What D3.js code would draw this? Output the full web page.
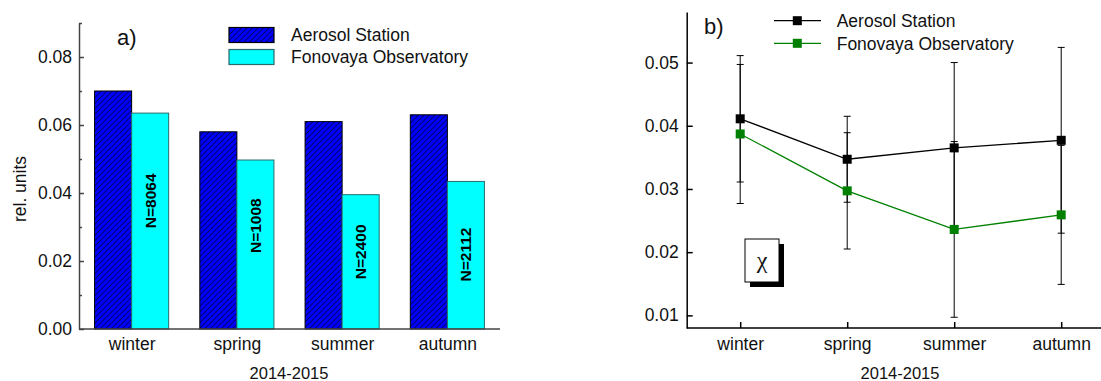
<!DOCTYPE html>
<html>
<head>
<meta charset="utf-8">
<script src="https://cdn.jsdelivr.net/npm/d3@7/dist/d3.min.js"></script>
<style>
body { margin: 0; background: #fff; }
svg { display: block; font-family: "Liberation Sans", Arial, sans-serif; }
</style>
</head>
<body>
<div id="chart"></div>
<script>
// Chart data
var seasons = ["winter", "spring", "summer", "autumn"];
var seriesNames = ["Aerosol Station", "Fonovaya Observatory"];

// a) share, rel. units
var aerosolShare  = [0.070, 0.058, 0.061, 0.063];
var fonovayaShare = [0.0635, 0.0497, 0.0395, 0.0434];
var sampleSizes   = [8064, 1008, 2400, 2112];
var sampleLabelLevel = [0.0377, 0.0304, 0.0227, 0.0219]; // where the N= text sits (rel. units)

// b) chi with error bars
var aerosolChi     = [0.0411, 0.0347, 0.0365, 0.0377];
var aerosolChiErr  = [0.0100, 0.0068, 0.0135, 0.0147];
var fonovayaChi    = [0.0387, 0.0297, 0.0236, 0.0259];
var fonovayaChiErr = [0.0110, 0.0092, 0.0139, 0.0110];

var shareTicks      = [0, 0.02, 0.04, 0.06, 0.08];
var shareMinorTicks = [0.01, 0.03, 0.05, 0.07, 0.09];
var chiTicks        = [0.01, 0.02, 0.03, 0.04, 0.05];
var xTitle = "2014-2015";

var width = 1101;
var height = 381;
var fmt = d3.format(".2f");

var svg = d3.select("#chart").append("svg")
    .attr("width", width)
    .attr("height", height);

// hatch for the Aerosol Station bars
var defs = svg.append("defs");
defs.append("pattern")
    .attr("id", "hatch")
    .attr("patternUnits", "userSpaceOnUse")
    .attr("width", 5.5)
    .attr("height", 5.5)
  .append("path")
    .attr("d", "M0,5.5L5.5,0M-1,1L1,-1M4.5,6.5L6.5,4.5")
    .attr("stroke", "#000")
    .attr("stroke-width", 0.8);

/* ---------- panel a) ---------- */
var xa = d3.scalePoint().domain(seasons).range([79, 500]).padding(0.5);
var ya = d3.scaleLinear().domain([0, 0.09]).range([329, 23]);
var barW = xa.step() * 0.352;
var axisGrey = "#444";

var gA = svg.append("g");

gA.selectAll("rect.aero")
    .data(seasons)
    .enter()
    .append("rect")
    .attr("class", "aero")
    .attr("x", d => xa(d) - barW)
    .attr("y", (d, i) => ya(aerosolShare[i]))
    .attr("width", barW)
    .attr("height", (d, i) => ya(0) - ya(aerosolShare[i]))
    .attr("fill", "#0000ff");

gA.selectAll("rect.aeroHatch")
    .data(seasons)
    .enter()
    .append("rect")
    .attr("class", "aeroHatch")
    .attr("x", d => xa(d) - barW)
    .attr("y", (d, i) => ya(aerosolShare[i]))
    .attr("width", barW)
    .attr("height", (d, i) => ya(0) - ya(aerosolShare[i]))
    .attr("fill", "url(#hatch)")
    .attr("stroke", "#000")
    .attr("stroke-width", 1);

gA.selectAll("rect.fono")
    .data(seasons)
    .enter()
    .append("rect")
    .attr("class", "fono")
    .attr("x", d => xa(d))
    .attr("y", (d, i) => ya(fonovayaShare[i]))
    .attr("width", barW)
    .attr("height", (d, i) => ya(0) - ya(fonovayaShare[i]))
    .attr("fill", "#00ffff")
    .attr("stroke", "#2a6a6a")
    .attr("stroke-width", 1);

// N= labels inside the cyan bars
gA.selectAll("text.nlab")
    .data(seasons)
    .enter()
    .append("text")
    .attr("class", "nlab")
    .attr("transform", (d, i) => "translate(" + (xa(d) + barW / 2) + "," + ya(sampleLabelLevel[i]) + ")rotate(-90)")
    .attr("text-anchor", "middle")
    .attr("dy", "0.36em")
    .attr("font-size", "15.5px")
    .attr("font-weight", "bold")
    .text((d, i) => "N=" + sampleSizes[i]);

// y axis, ticks pointing inward
var yAxisA = gA.append("g")
    .attr("transform", "translate(79,0)")
    .call(d3.axisLeft(ya).tickValues(shareTicks).tickFormat(fmt)
          .tickSizeInner(-5).tickSizeOuter(0).tickPadding(7));
gA.append("g")
    .attr("transform", "translate(79,0)")
    .call(d3.axisLeft(ya).tickValues(shareMinorTicks).tickFormat("")
          .tickSizeInner(-3).tickSizeOuter(0))
    .select(".domain").remove();

var xAxisA = gA.append("g")
    .attr("transform", "translate(0,329)")
    .call(d3.axisBottom(xa).tickSize(0).tickPadding(9));
xAxisA.select(".domain").attr("d", "M79,0H500");

gA.selectAll(".domain, .tick line")
    .attr("stroke", axisGrey)
    .attr("stroke-width", 1.5);
gA.selectAll(".tick text")
    .attr("font-family", "Liberation Sans, Arial, sans-serif")
    .attr("font-size", "17.5px")
    .attr("fill", "#111");

gA.append("text")
    .attr("transform", "translate(26,189)rotate(-90)")
    .attr("text-anchor", "middle")
    .attr("font-size", "17.5px")
    .attr("fill", "#111")
    .text("rel. units");

gA.append("text")
    .attr("x", 289)
    .attr("y", 379)
    .attr("text-anchor", "middle")
    .attr("font-size", "16.5px")
    .attr("fill", "#111")
    .text(xTitle);

gA.append("text")
    .attr("x", 117)
    .attr("y", 45)
    .attr("font-size", "22px")
    .attr("fill", "#111")
    .text("a)");

// legend a)
var legA = gA.append("g");
legA.append("rect")
    .attr("x", 229).attr("y", 27.5).attr("width", 45).attr("height", 15)
    .attr("fill", "#0000ff");
legA.append("rect")
    .attr("x", 229).attr("y", 27.5).attr("width", 45).attr("height", 15)
    .attr("fill", "url(#hatch)").attr("stroke", "#000").attr("stroke-width", 1.2);
legA.append("rect")
    .attr("x", 229).attr("y", 49.5).attr("width", 45).attr("height", 15)
    .attr("fill", "#00ffff").attr("stroke", "#2a6a6a").attr("stroke-width", 1.2);
legA.selectAll("text")
    .data(seriesNames)
    .enter()
    .append("text")
    .attr("x", 291)
    .attr("y", (d, i) => 41 + i * 22)
    .attr("font-size", "17.5px")
    .attr("fill", "#111")
    .text(d => d);

/* ---------- panel b) ---------- */
var xb = d3.scalePoint().domain(seasons).range([686.7, 1114.7]).padding(0.5);
var yb = d3.scaleLinear().domain([0.008, 0.058]).range([328, 12]);
var green = "#008000";

var gB = svg.append("g");

var yAxisB = gB.append("g")
    .attr("transform", "translate(686.7,0)")
    .call(d3.axisLeft(yb).tickValues(chiTicks).tickFormat(fmt)
          .tickSizeInner(-6).tickSizeOuter(0).tickPadding(8));

var xAxisB = gB.append("g")
    .attr("transform", "translate(0,328)")
    .call(d3.axisBottom(xb).tickSizeInner(-6).tickSizeOuter(0).tickPadding(9.5));
xAxisB.select(".domain").attr("d", "M686.7,0H1101");

gB.selectAll(".domain, .tick line")
    .attr("stroke", "#000")
    .attr("stroke-width", 1.5);
gB.selectAll(".tick text")
    .attr("font-family", "Liberation Sans, Arial, sans-serif")
    .attr("font-size", "17.5px")
    .attr("fill", "#111");

var series = [
    { name: seriesNames[0], values: aerosolChi, errs: aerosolChiErr, color: "#000" },
    { name: seriesNames[1], values: fonovayaChi, errs: fonovayaChiErr, color: green }
];

// error bars (black for both series)
series.forEach(function(s) {
    var eb = gB.append("g").attr("stroke", "#000").attr("stroke-width", 1).attr("fill", "none");
    eb.selectAll("path")
        .data(seasons)
        .enter()
        .append("path")
        .attr("d", function(d, i) {
            var cx = xb(d);
            var top = yb(s.values[i] + s.errs[i]);
            var bot = yb(s.values[i] - s.errs[i]);
            return "M" + cx + "," + top + "V" + bot +
                   "M" + (cx - 3.5) + "," + top + "h7" +
                   "M" + (cx - 3.5) + "," + bot + "h7";
        });
});

var line = d3.line()
    .x(d => xb(d[0]))
    .y(d => yb(d[1]));

series.forEach(function(s) {
    gB.append("path")
        .datum(d3.zip(seasons, s.values))
        .attr("d", line)
        .attr("fill", "none")
        .attr("stroke", s.color)
        .attr("stroke-width", 1.3);
});

series.forEach(function(s) {
    gB.append("g")
        .selectAll("rect")
        .data(seasons)
        .enter()
        .append("rect")
        .attr("x", d => xb(d) - 4.5)
        .attr("y", (d, i) => yb(s.values[i]) - 4.5)
        .attr("width", 9)
        .attr("height", 9)
        .attr("fill", s.color);
});

// legend b)
var legB = gB.append("g");
series.forEach(function(s, i) {
    var ly = 20.7 + i * 22.6;
    legB.append("line")
        .attr("x1", 774).attr("x2", 821).attr("y1", ly).attr("y2", ly)
        .attr("stroke", s.color).attr("stroke-width", 1.3);
    legB.append("rect")
        .attr("x", 797.3 - 4.5).attr("y", ly - 4.5)
        .attr("width", 9).attr("height", 9)
        .attr("fill", s.color);
    legB.append("text")
        .attr("x", 836.7)
        .attr("y", ly + 6.3)
        .attr("font-size", "17.5px")
        .attr("fill", "#111")
        .text(s.name);
});

gB.append("text")
    .attr("x", 704)
    .attr("y", 34)
    .attr("font-size", "22px")
    .attr("fill", "#111")
    .text("b)");

gB.append("text")
    .attr("x", 900)
    .attr("y", 379)
    .attr("text-anchor", "middle")
    .attr("font-size", "16.5px")
    .attr("fill", "#111")
    .text(xTitle);

// chi label box with drop shadow
gB.append("rect")
    .attr("x", 750).attr("y", 244).attr("width", 34).attr("height", 43)
    .attr("fill", "#000");
gB.append("rect")
    .attr("x", 745).attr("y", 239).attr("width", 34).attr("height", 43)
    .attr("fill", "#fff").attr("stroke", "#000").attr("stroke-width", 1);
gB.append("text")
    .attr("x", 762)
    .attr("y", 268)
    .attr("text-anchor", "middle")
    .attr("font-family", "Liberation Serif, Times New Roman, serif")
    .attr("font-size", "24px")
    .attr("fill", "#111")
    .text("\u03c7");
</script>
</body>
</html>
